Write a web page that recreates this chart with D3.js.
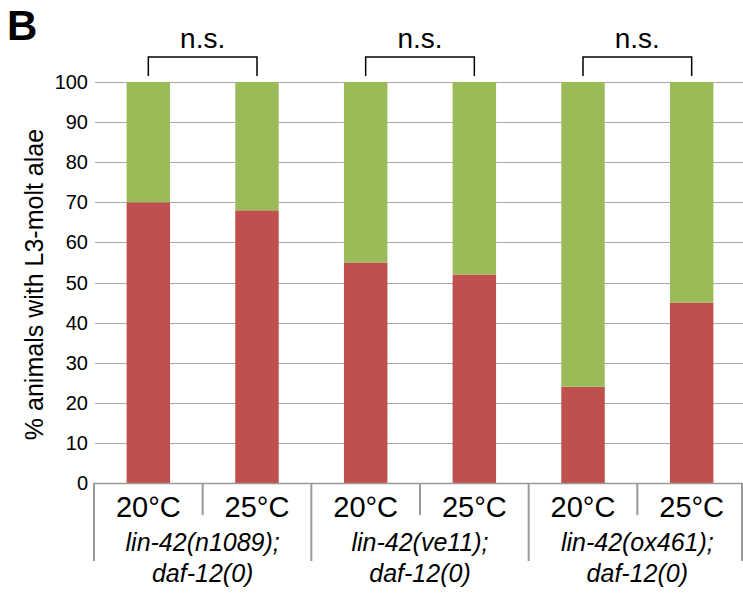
<!DOCTYPE html>
<meta charset="utf-8">
<style>
  body { margin: 0; background: #fff; }
  text { font-family: "Liberation Sans", Arial, sans-serif; fill: #000; }
</style>
<body>
<svg id="chart" width="743" height="594"></svg>
<script src="https://cdn.jsdelivr.net/npm/d3@7"></script>
<script>
// chart data
var temps = ["20°C", "25°C", "20°C", "25°C", "20°C", "25°C"];
var genotypes = [
  ["lin-42(n1089);", "daf-12(0)"],
  ["lin-42(ve11);", "daf-12(0)"],
  ["lin-42(ox461);", "daf-12(0)"]
];
var redValues = [70, 68, 55, 52, 24, 45];
var greenValues = [30, 32, 45, 48, 76, 55];
var yTicks = [0, 10, 20, 30, 40, 50, 60, 70, 80, 90, 100];
var sigLabels = ["n.s.", "n.s.", "n.s."];

var red = "#c0504d", green = "#9bbb59";

var svg = d3.select("#chart");
var ids = d3.range(temps.length);

var x = d3.scaleBand().domain(ids).range([94, 746]).paddingInner(0.6).paddingOuter(0.3),
    y = d3.scaleLinear().domain([0, 100]).range([483, 82]);

// gridlines
svg.append("g").selectAll("line").data(yTicks).enter().append("line")
  .attr("x1", 95).attr("x2", 743)
  .attr("y1", function(d){ return Math.round(y(d)) + 0.5; })
  .attr("y2", function(d){ return Math.round(y(d)) + 0.5; })
  .attr("stroke", "#a9a9a9").attr("stroke-width", 1);

// y tick labels
svg.append("g").selectAll("text").data(yTicks).enter().append("text")
  .attr("x", 88).attr("y", function(d){ return y(d) + 7; })
  .attr("text-anchor", "end").style("font-size", "20px")
  .text(function(d){ return d; });

// y axis title
svg.append("text")
  .attr("transform", "translate(43," + (y(50) + 2) + ") rotate(-90)")
  .attr("text-anchor", "middle").style("font-size", "25px")
  .text("% animals with L3-molt alae");

// stacked bars
var bars = svg.append("g");
bars.selectAll(".red").data(ids).enter().append("rect")
  .attr("x", function(i){ return x(i); })
  .attr("width", x.bandwidth())
  .attr("y", function(i){ return y(redValues[i]); })
  .attr("height", function(i){ return y(0) - y(redValues[i]); })
  .attr("fill", red);
bars.selectAll(".green").data(ids).enter().append("rect")
  .attr("x", function(i){ return x(i); })
  .attr("width", x.bandwidth())
  .attr("y", function(i){ return y(redValues[i] + greenValues[i]); })
  .attr("height", function(i){ return y(redValues[i]) - y(redValues[i] + greenValues[i]); })
  .attr("fill", green);

// category axis box
var axisColor = "#999";
svg.append("line").attr("x1", 94).attr("x2", 743).attr("y1", 483.5).attr("y2", 483.5)
  .attr("stroke", axisColor).attr("stroke-width", 1.5);
var step = x.step(), x0 = x.range()[0];
d3.range(0, 7).forEach(function(k){
  var xx = x0 + k * step;
  if (xx > 742) xx = 742;
  svg.append("line")
    .attr("x1", xx).attr("x2", xx)
    .attr("y1", 483).attr("y2", k % 2 == 0 ? 561 : 515)
    .attr("stroke", axisColor).attr("stroke-width", 2);
});

// temperature labels
svg.append("g").selectAll("text").data(ids).enter().append("text")
  .attr("x", function(i){ return x(i) + x.bandwidth() / 2; })
  .attr("y", 517)
  .attr("text-anchor", "middle").style("font-size", "29px")
  .text(function(i){ return temps[i]; });

// genotype labels
genotypes.forEach(function(g, j){
  var cx = x0 + (2 * j + 1) * step;
  g.forEach(function(line, l){
    svg.append("text")
      .attr("x", cx).attr("y", 551 + l * 31)
      .attr("text-anchor", "middle")
      .style("font-size", "25px").style("font-style", "italic")
      .text(line);
  });
});

// significance brackets
sigLabels.forEach(function(s, j){
  var a = x(2 * j) + x.bandwidth() / 2,
      b = x(2 * j + 1) + x.bandwidth() / 2;
  svg.append("path")
    .attr("d", "M" + a + ",76V57H" + b + "V76")
    .attr("fill", "none").attr("stroke", "#000").attr("stroke-width", 1.5);
  svg.append("text")
    .attr("x", (a + b) / 2).attr("y", 48)
    .attr("text-anchor", "middle").style("font-size", "28px")
    .text(s);
});

// panel letter
svg.append("text").attr("x", 7).attr("y", 40)
  .style("font-size", "42px").style("font-weight", "bold")
  .text("B");
</script>
</body>
